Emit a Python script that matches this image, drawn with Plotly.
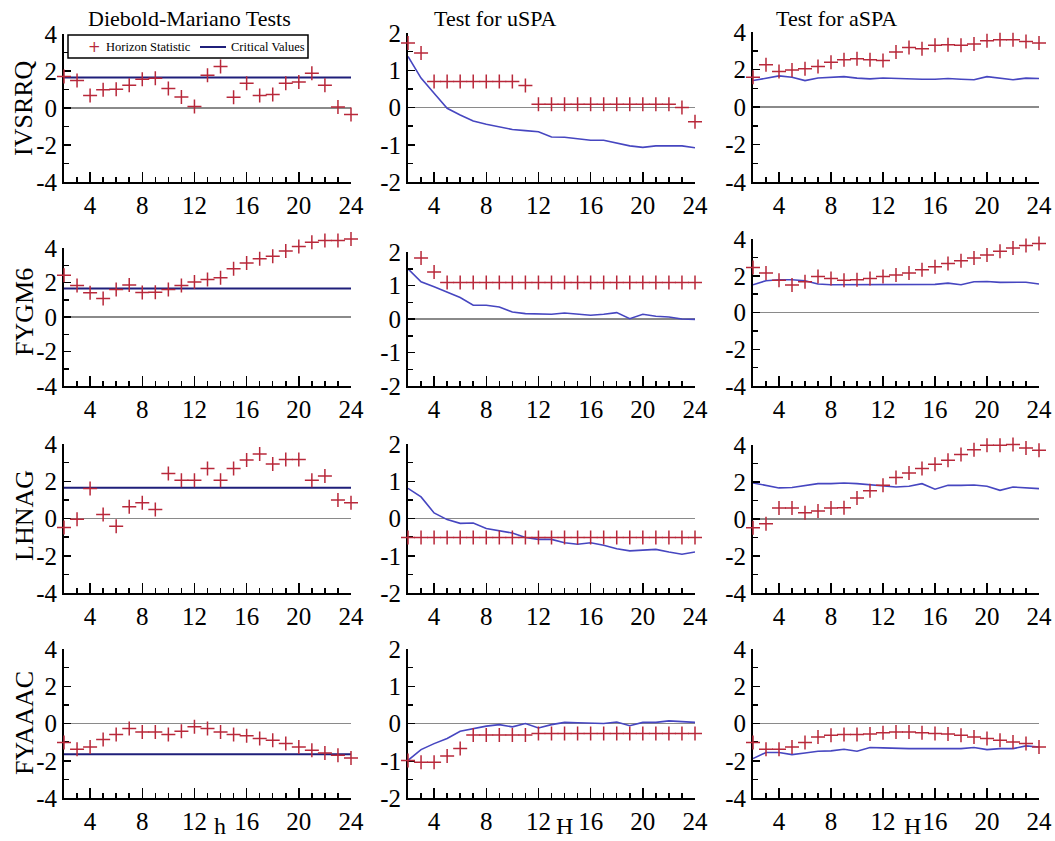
import plotly.graph_objects as go

# ---------------- data ----------------
h = list(range(2, 25))
row_names = ["IVSRRQ", "FYGM6", "LHNAG", "FYAAAC"]
col_titles = ["Diebold-Mariano Tests", "Test for uSPA", "Test for aSPA"]
x_titles = ["h", "H", "H"]
x_tickvals = [4, 8, 12, 16, 20, 24]
legend_labels = ["Horizon Statistic", "Critical Values"]

# Diebold-Mariano statistics and (constant) critical values
dm_IVSRRQ = [1.70, 1.48, 0.67, 0.98, 1.02, 1.23, 1.56, 1.61, 1.05, 0.60, 0.08, 1.77,
             2.24, 0.58, 1.34, 0.67, 0.73, 1.34, 1.41, 1.88, 1.23, 0.05, -0.35]
dm_FYGM6 = [2.42, 1.82, 1.40, 1.07, 1.59, 1.86, 1.42, 1.44, 1.59, 1.82, 2.03, 2.17,
            2.28, 2.80, 3.13, 3.38, 3.52, 3.82, 4.09, 4.33, 4.44, 4.44, 4.52]
dm_LHNAG = [-0.48, -0.04, 1.61, 0.22, -0.41, 0.63, 0.84, 0.48, 2.42, 2.06, 2.06, 2.69,
            2.06, 2.69, 3.14, 3.46, 2.92, 3.17, 3.17, 2.06, 2.28, 0.99, 0.84]
dm_FYAAAC = [-1.02, -1.38, -1.26, -0.86, -0.59, -0.27, -0.45, -0.45, -0.59, -0.41, -0.18, -0.27,
             -0.45, -0.59, -0.66, -0.81, -0.90, -1.08, -1.26, -1.43, -1.58, -1.70, -1.85]
dm_crit = [1.645, 1.645, 1.645, -1.645]

# uSPA statistics and critical values
uspa_IVSRRQ = [1.73, 1.46, 0.70, 0.70, 0.70, 0.70, 0.70, 0.70, 0.70, 0.59, 0.09, 0.09,
               0.09, 0.09, 0.09, 0.09, 0.09, 0.09, 0.09, 0.09, 0.09, 0.00, -0.38]
uspa_crit_IVSRRQ = [1.37, 0.79, 0.38, -0.02, -0.20, -0.36, -0.45, -0.52, -0.59, -0.62, -0.65, -0.79,
                    -0.80, -0.84, -0.88, -0.88, -0.95, -1.03, -1.07, -1.03, -1.03, -1.03, -1.08]
uspa_FYGM6 = [None, 1.82, 1.40, 1.09, 1.09, 1.09, 1.09, 1.09, 1.09, 1.09, 1.09, 1.09,
              1.09, 1.09, 1.09, 1.09, 1.09, 1.09, 1.09, 1.09, 1.09, 1.09, 1.09]
uspa_crit_FYGM6 = [1.50, 1.11, 0.96, 0.81, 0.64, 0.41, 0.41, 0.36, 0.21, 0.16, 0.16, 0.14,
                   0.18, 0.14, 0.11, 0.14, 0.19, 0.01, 0.14, 0.08, 0.06, 0.00, -0.01]
uspa_LHNAG = [-0.51, -0.51, -0.51, -0.51, -0.51, -0.51, -0.51, -0.51, -0.51, -0.51, -0.51, -0.51,
              -0.51, -0.51, -0.51, -0.51, -0.51, -0.51, -0.51, -0.51, -0.51, -0.51, -0.51]
uspa_crit_LHNAG = [0.81, 0.58, 0.15, -0.03, -0.13, -0.12, -0.27, -0.34, -0.39, -0.51, -0.56, -0.56,
                   -0.65, -0.69, -0.65, -0.72, -0.81, -0.87, -0.85, -0.83, -0.90, -0.96, -0.90]
uspa_FYAAAC = [-0.99, -1.04, -1.04, -0.87, -0.67, -0.31, -0.31, -0.31, -0.31, -0.31, -0.27, -0.27,
               -0.27, -0.27, -0.27, -0.27, -0.27, -0.27, -0.27, -0.27, -0.27, -0.27, -0.27]
uspa_crit_FYAAAC = [-0.99, -0.70, -0.54, -0.40, -0.21, -0.13, -0.07, -0.03, -0.09, 0.00, -0.12, -0.03,
                    0.03, 0.02, 0.00, 0.00, 0.04, -0.06, 0.03, 0.03, 0.07, 0.04, 0.03]

# aSPA statistics and critical values
aspa_IVSRRQ = [1.59, 2.25, 1.89, 1.98, 2.04, 2.16, 2.39, 2.52, 2.57, 2.52, 2.48, 2.93,
               3.18, 3.11, 3.29, 3.32, 3.29, 3.36, 3.54, 3.59, 3.59, 3.50, 3.41]
aspa_crit_IVSRRQ = [1.41, 1.52, 1.66, 1.59, 1.41, 1.55, 1.59, 1.62, 1.54, 1.50, 1.55, 1.52,
                    1.48, 1.48, 1.48, 1.52, 1.48, 1.45, 1.62, 1.52, 1.45, 1.54, 1.52]
aspa_FYGM6 = [2.45, 2.15, 1.76, 1.49, 1.67, 1.96, 1.85, 1.76, 1.78, 1.85, 1.96, 2.04,
              2.15, 2.33, 2.49, 2.67, 2.82, 2.96, 3.13, 3.33, 3.51, 3.64, 3.76]
aspa_crit_FYGM6 = [1.51, 1.73, 1.78, 1.78, 1.73, 1.55, 1.51, 1.51, 1.51, 1.55, 1.55, 1.53,
                   1.53, 1.53, 1.53, 1.60, 1.51, 1.67, 1.69, 1.64, 1.64, 1.65, 1.55]
aspa_LHNAG = [-0.47, -0.25, 0.60, 0.60, 0.34, 0.43, 0.60, 0.61, 1.14, 1.53, 1.82, 2.24,
              2.49, 2.73, 2.96, 3.18, 3.48, 3.75, 3.99, 3.99, 4.03, 3.84, 3.72]
aspa_crit_LHNAG = [1.95, 1.82, 1.68, 1.70, 1.82, 1.91, 1.91, 1.95, 1.91, 1.86, 1.77, 1.73,
                   1.77, 1.91, 1.61, 1.82, 1.82, 1.84, 1.77, 1.55, 1.73, 1.70, 1.64]
aspa_FYAAAC = [-1.02, -1.38, -1.38, -1.26, -1.02, -0.72, -0.63, -0.59, -0.59, -0.56, -0.50, -0.45,
               -0.45, -0.50, -0.54, -0.57, -0.63, -0.72, -0.81, -0.90, -0.99, -1.08, -1.26]
aspa_crit_FYAAAC = [-1.88, -1.56, -1.56, -1.67, -1.58, -1.49, -1.47, -1.38, -1.49, -1.29, -1.31, -1.35,
                    -1.35, -1.35, -1.35, -1.35, -1.35, -1.29, -1.40, -1.35, -1.35, -1.20, -1.26]

dm_stats = [dm_IVSRRQ, dm_FYGM6, dm_LHNAG, dm_FYAAAC]
uspa_stats = [uspa_IVSRRQ, uspa_FYGM6, uspa_LHNAG, uspa_FYAAAC]
uspa_crits = [uspa_crit_IVSRRQ, uspa_crit_FYGM6, uspa_crit_LHNAG, uspa_crit_FYAAAC]
aspa_stats = [aspa_IVSRRQ, aspa_FYGM6, aspa_LHNAG, aspa_FYAAAC]
aspa_crits = [aspa_crit_IVSRRQ, aspa_crit_FYGM6, aspa_crit_LHNAG, aspa_crit_FYAAAC]

# ---------------- layout / style ----------------
W, H = 1055, 841
FONT = "Liberation Serif, Times New Roman, serif"
RED = "#b8283a"
NAVY = "#1f1f7a"
BLUE = "#4646c0"
PAD = 25  # extra pixels for the (invisible) marker axes so off-scale points still show

col_px = [(64, 351), (408, 695), (753, 1039)]
row_tops = [[34, 33, 32], [248, 252, 239], [444, 444, 445], [649, 649, 649]]
row_bottoms = [182, 386, 593, 798]


def px_x(p):
    return p / W


def px_y(p):
    return 1 - p / H


fig = go.Figure()
layout = dict(
    width=W, height=H,
    margin=dict(l=0, r=0, t=0, b=0, pad=0, autoexpand=False),
    paper_bgcolor="white", plot_bgcolor="rgba(0,0,0,0)",
    font=dict(family=FONT, color="black"),
    showlegend=False, hovermode=False,
    annotations=[],
    shapes=[],
)

k = 0
for r in range(4):
    for c in range(3):
        k += 1
        xa = "x" if k == 1 else f"x{k}"
        ya = "y" if k == 1 else f"y{k}"
        xkey = "xaxis" if k == 1 else f"xaxis{k}"
        ykey = "yaxis" if k == 1 else f"yaxis{k}"
        ma = f"y{12 + k}"
        mkey = f"yaxis{12 + k}"
        if c == 1:
            yr = [-2, 2]
            yt = [-2, -1, 0, 1, 2]
            ym = [-1.5, -0.5, 0.5, 1.5]
        else:
            yr = [-4, 4]
            yt = [-4, -2, 0, 2, 4]
            ym = [-3, -1, 1, 3]
        top, bot = row_tops[r][c], row_bottoms[r]
        layout[xkey] = dict(
            domain=[px_x(col_px[c][0]), px_x(col_px[c][1])],
            anchor=ya, range=[2, 24], automargin=False,
            tickmode="array", tickvals=x_tickvals,
            ticktext=[str(v) for v in x_tickvals],
            ticks="inside", ticklen=10, tickwidth=1.5, tickcolor="black",
            minor=dict(tickmode="array", tickvals=[v for v in h if v not in x_tickvals],
                       ticks="inside", ticklen=5, tickwidth=1.5, tickcolor="black"),
            showline=True, linecolor="black", linewidth=2,
            showgrid=False, zeroline=False,
            tickfont=dict(family=FONT, size=25, color="black"),
        )
        layout[ykey] = dict(
            domain=[px_y(bot), px_y(top)],
            anchor=xa, range=yr, automargin=False,
            tickmode="array", tickvals=yt,
            ticktext=[("-" + str(abs(v))) if v < 0 else str(v) for v in yt],
            ticks="inside", ticklen=7, tickwidth=1.5, tickcolor="black",
            minor=dict(tickmode="array", tickvals=ym,
                       ticks="inside", ticklen=5, tickwidth=1.5, tickcolor="black"),
            showline=True, linecolor="black", linewidth=2,
            showgrid=False,
            zeroline=True, zerolinecolor="#8a8a8a", zerolinewidth=1.5,
            tickfont=dict(family=FONT, size=25, color="black"),
        )
        # invisible overlay axis with identical scale but a little extra room
        upp = (yr[1] - yr[0]) / (bot - top)
        layout[mkey] = dict(
            domain=[px_y(bot + PAD), px_y(top - PAD)],
            anchor=xa, range=[yr[0] - PAD * upp, yr[1] + PAD * upp],
            visible=False, showgrid=False, zeroline=False, automargin=False,
        )

        if c == 0:
            stat = dm_stats[r]
            crit = [dm_crit[r]] * len(h)
            lcol, lw = NAVY, 2
        elif c == 1:
            stat = uspa_stats[r]
            crit = uspa_crits[r]
            lcol, lw = BLUE, 1.6
        else:
            stat = aspa_stats[r]
            crit = aspa_crits[r]
            lcol, lw = BLUE, 1.6
        fig.add_trace(go.Scatter(
            x=h, y=crit, mode="lines", name=legend_labels[1],
            line=dict(color=lcol, width=lw), xaxis=xa, yaxis=ya,
            cliponaxis=False,
        ))
        fig.add_trace(go.Scatter(
            x=h, y=stat, mode="markers", name=legend_labels[0],
            marker=dict(symbol="cross-thin", size=10, color=RED,
                        line=dict(color=RED, width=1.5)),
            xaxis=xa, yaxis=ma, cliponaxis=False,
        ))

# ---- legend box (first panel) ----
LB = dict(x0=68, x1=308, y0=35, y1=58)
layout["shapes"].append(dict(
    type="rect", xref="paper", yref="paper",
    x0=px_x(LB["x0"]), x1=px_x(LB["x1"]), y0=px_y(LB["y1"]), y1=px_y(LB["y0"]),
    line=dict(color="black", width=1.5), fillcolor="white", layer="above",
))
layout["shapes"].append(dict(
    type="line", xref="paper", yref="paper",
    x0=px_x(200), x1=px_x(226), y0=px_y(47), y1=px_y(47),
    line=dict(color=NAVY, width=2), layer="above",
))
layout["annotations"].append(dict(
    text="+", xref="paper", yref="paper", x=px_x(94), y=px_y(46.5),
    xanchor="center", yanchor="middle", showarrow=False,
    font=dict(family="DejaVu Sans", size=15, color=RED),
))
layout["annotations"].append(dict(
    text=legend_labels[0], xref="paper", yref="paper", x=px_x(104), y=px_y(47),
    xanchor="left", yanchor="middle", showarrow=False,
    font=dict(family=FONT, size=12.5, color="black"),
))
layout["annotations"].append(dict(
    text=legend_labels[1], xref="paper", yref="paper", x=px_x(229), y=px_y(47),
    xanchor="left", yanchor="middle", showarrow=False,
    font=dict(family=FONT, size=12.5, color="black"),
))

# column titles
title_x = [86, 432, 774]
for c in range(3):
    layout["annotations"].append(dict(
        text=col_titles[c], xref="paper", yref="paper",
        x=px_x(title_x[c]), y=px_y(19), xanchor="left", yanchor="middle",
        showarrow=False, font=dict(family=FONT, size=22, color="black"),
    ))

# row labels
row_label_y = [108, 312, 516, 723]
for r in range(4):
    layout["annotations"].append(dict(
        text=row_names[r], xref="paper", yref="paper",
        x=px_x(24), y=px_y(row_label_y[r]), xanchor="center", yanchor="middle",
        textangle=-90, showarrow=False, font=dict(family=FONT, size=26, color="black"),
    ))

# x-axis titles
xt_x = [220, 564, 912]
for c in range(3):
    layout["annotations"].append(dict(
        text=x_titles[c], xref="paper", yref="paper",
        x=px_x(xt_x[c]), y=0, xanchor="center", yanchor="bottom",
        showarrow=False, font=dict(family=FONT, size=24, color="black"),
    ))

fig.update_layout(**layout)
fig.write_html(
    "out.html",
    config={"displayModeBar": False, "staticPlot": True},
    post_script="document.body.style.margin='0px';document.body.style.overflow='hidden';",
)
